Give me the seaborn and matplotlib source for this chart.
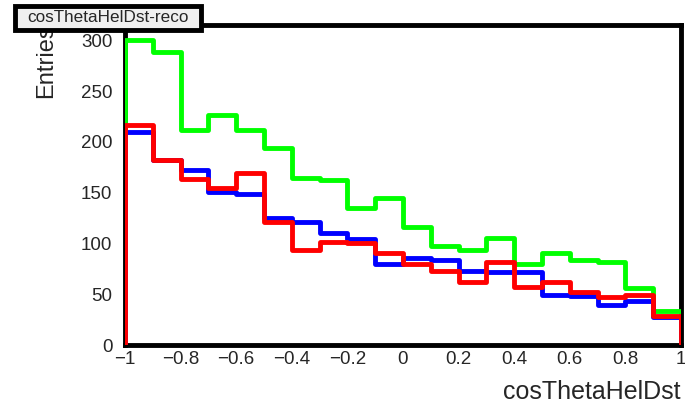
import numpy as np
import pandas as pd
import matplotlib
matplotlib.use("Agg")
import matplotlib.pyplot as plt
import matplotlib.patches as mpatches
import seaborn as sns
from matplotlib.ticker import MultipleLocator

# bin layout: 20 bins of cosThetaHelDst in [-1, 1]
edges = np.linspace(-1, 1, 21)
centers = (edges[:-1] + edges[1:]) / 2

# entries per bin
green = [300, 288, 212, 226, 212, 194, 164, 162, 135, 145,
         116, 97, 94, 105, 80, 91, 84, 82, 56, 33]
blue = [210, 182, 172, 151, 149, 125, 121, 110, 104, 80,
        86, 84, 73, 72, 72, 49, 48, 39, 43, 28]
red = [217, 182, 163, 155, 169, 121, 94, 101, 100, 91,
       80, 73, 62, 82, 57, 62, 52, 47, 49, 29]

sns.set_style("white")
plt.rcParams['font.family'] = ['Liberation Sans', 'DejaVu Sans']

fig = plt.figure(figsize=(6.85, 4.11), dpi=100)
ax = fig.add_axes([125/685, 1 - 345/411, 556/685, 320/411])

# empty under/overflow bins so the outline drops to zero at both ends
xs = np.concatenate([[-1.05], centers, [1.05]])
for vals, col in [(green, '#00ff00'), (blue, '#0000ff'), (red, '#ff0000')]:
    df = pd.DataFrame({'x': xs, 'w': [0] + list(vals) + [0]})
    sns.histplot(data=df, x='x', weights='w', binwidth=0.1, binrange=(-1.1, 1.1),
                 element='step', fill=False, color=col, linewidth=3.5,
                 zorder=2.6, ax=ax)

ax.set_xlim(-1, 1)
ax.set_ylim(0, 315)
ax.set_xlabel('')
ax.set_ylabel('')
ax.xaxis.set_minor_locator(MultipleLocator(0.05))
ax.yaxis.set_major_locator(MultipleLocator(50))
ax.yaxis.set_minor_locator(MultipleLocator(10))
ax.set_xticks(np.round(np.arange(-1, 1.01, 0.2), 1))
ax.set_xticklabels(['\u22121', '\u22120.8', '\u22120.6', '\u22120.4', '\u22120.2',
                    '0', '0.2', '0.4', '0.6', '0.8', '1'])
ax.tick_params(which='both', direction='in', color='black', width=2,
               labelsize=13.5, top=False, right=False)
ax.tick_params(which='major', length=8)
ax.tick_params(which='minor', length=4)
ax.tick_params(axis='y', pad=9)
ax.tick_params(axis='x', pad=4)
ax.xaxis.set_zorder(2.7)
ax.yaxis.set_zorder(2.7)
for s in ax.spines.values():
    s.set_color('black')
    s.set_linewidth(3.5)

fig.text(46/685, 1 - 98/411, 'Entries', rotation=90, ha='center', va='bottom',
         fontsize=17, zorder=1)
fig.text(680/685, 1 - 392/411, 'cosThetaHelDst', ha='right', va='center',
         fontsize=18)

# title box
box = mpatches.Rectangle((15/685, 1 - 30/411), 186/685, 24/411,
                         transform=fig.transFigure, facecolor='#f0f0f0',
                         edgecolor='black', linewidth=3.5, zorder=4)
fig.patches.append(box)
fig.text(108/685, 1 - 18/411, 'cosThetaHelDst-reco', ha='center', va='center',
         fontsize=12.3, zorder=5)

fig.savefig('out.png', dpi=100)
